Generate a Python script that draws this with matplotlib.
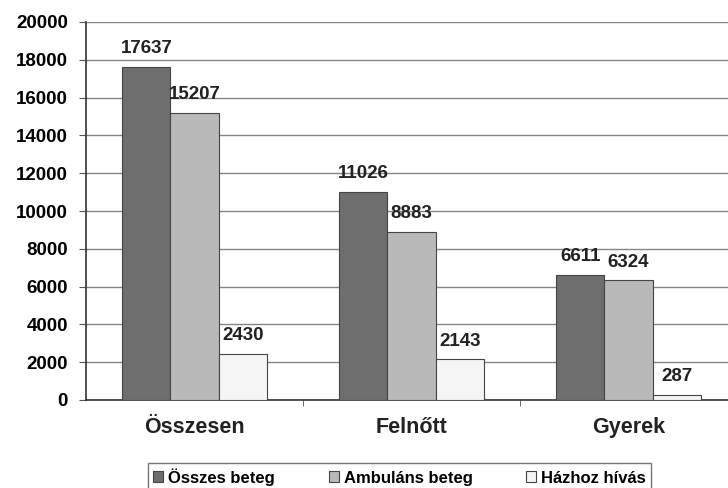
import matplotlib
matplotlib.use("Agg")
import matplotlib.pyplot as plt
import numpy as np

categories = ["Összesen", "Felnőtt", "Gyerek"]
series_names = ["Összes beteg", "Ambuláns beteg", "Házhoz hívás"]
osszes = [17637, 11026, 6611]
ambulans = [15207, 8883, 6324]
hazhoz = [2430, 2143, 287]

colors = ["#6e6e6e", "#b9b9b9", "#f5f5f5"]

plt.rcParams["font.family"] = ["Liberation Sans", "DejaVu Sans"]
plt.rcParams["font.weight"] = "bold"

fig = plt.figure(figsize=(7.28, 4.88), dpi=100)
ax = fig.add_axes([86 / 728, 88 / 488, 651 / 728, 378 / 488])

x = np.arange(len(categories))
w = 0.222
for i, (vals, name) in enumerate(zip([osszes, ambulans, hazhoz], series_names)):
    pos = x + (i - 1) * w
    ax.bar(pos, vals, w, color=colors[i], edgecolor="#444444", linewidth=0.8,
           label=name, zorder=3)
    for p, v in zip(pos, vals):
        ax.annotate(str(v), (p, v), xytext=(0, 7), textcoords="offset points",
                    ha="center", va="bottom", fontsize=13.5, fontweight="bold",
                    color="#222222")

ax.set_xlim(-0.5, 2.5)
ax.set_ylim(0, 20000)
ax.set_yticks(range(0, 20001, 2000))
ax.tick_params(axis="y", labelsize=13.5, length=5, color="#555555", pad=8)
ax.set_xticks(x)
ax.set_xticklabels(categories, fontsize=15.5, fontweight="bold", color="#222222")
ax.tick_params(axis="x", length=0, pad=12)
ax.set_xticks([0.5, 1.5], minor=True)
ax.tick_params(axis="x", which="minor", length=4, color="#555555")
ax.yaxis.grid(True, color="#858585", linewidth=1.0, zorder=0)
ax.set_axisbelow(True)
for s in ["top", "right"]:
    ax.spines[s].set_visible(False)
ax.spines["left"].set_color("#333333")
ax.spines["bottom"].set_color("#333333")
ax.spines["left"].set_linewidth(1.2)
ax.spines["bottom"].set_linewidth(1.2)

leg = fig.legend(loc="upper left", bbox_to_anchor=(148 / 728, 25 / 488, 503 / 728, 0),
                 mode="expand", ncol=3, fontsize=12, frameon=True, fancybox=False,
                 handlelength=0.6, handleheight=0.6, handletextpad=0.3,
                 columnspacing=1.2, borderpad=0.3, borderaxespad=0)
leg.get_frame().set_edgecolor("#555555")
leg.get_frame().set_linewidth(1.0)

fig.savefig("out.png", dpi=100)
